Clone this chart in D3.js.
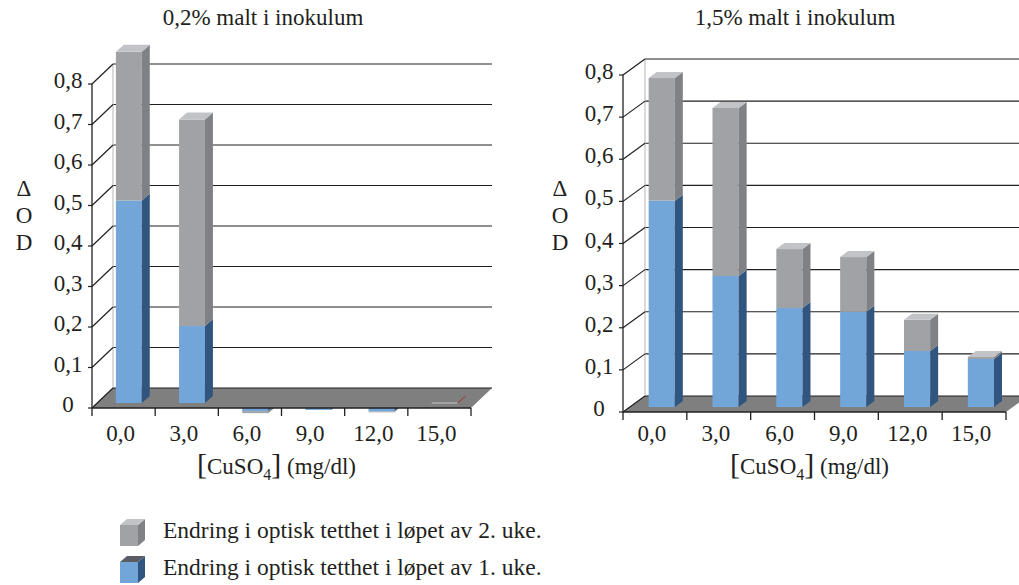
<!DOCTYPE html>
<html>
<head>
<meta charset="utf-8">
<script src="https://cdn.jsdelivr.net/npm/d3@7"></script>
<style>
  body { margin: 0; background: #fff; }
  text { font-family: "Liberation Serif", "DejaVu Serif", serif; fill: #231f20; }
</style>
</head>
<body>
<svg id="chart" width="1019" height="585"></svg>
<script>
// data
const categories = ["0,0", "3,0", "6,0", "9,0", "12,0", "15,0"]
const week1Low  = [0.50, 0.19, -0.02, -0.017, -0.021, 0]
const week2Low  = [0.367, 0.51, -0.005, 0, -0.002, 0]
const week1High = [0.49, 0.311, 0.235, 0.226, 0.133, 0.114]
const week2High = [0.291, 0.399, 0.14, 0.13, 0.074, 0.005]
const yTicks = [0, 0.1, 0.2, 0.3, 0.4, 0.5, 0.6, 0.7, 0.8]
const yTickLabels = ["0", "0,1", "0,2", "0,3", "0,4", "0,5", "0,6", "0,7", "0,8"]
const titles = ["0,2% malt i inokulum", "1,5% malt i inokulum"]
const legendLabels = ["Endring i optisk tetthet i løpet av 2. uke.", "Endring i optisk tetthet i løpet av 1. uke."]

const colors = {
  grayFront: "#a1a2a6", graySide: "#808186", grayTop: "#c2c3c6",
  blueFront: "#72a5d8", blueSide: "#30557f", blueTop: "#5a5e64",
  floor: "#7f7f7f", line: "#231f20"
}

const svg = d3.select("#chart")

const pts = arr => arr.map(p => p.join(",")).join(" ")

function drawPanel(opts) {
  const { x0, x1, y0, y1, depth, barShift, barDepth, week1, week2, title, titleX, deltaX } = opts
  const [dx, dy] = depth
  const g = svg.append("g")

  const xScale = d3.scaleBand()
    .domain(categories)
    .range([x0, x1])
    .paddingInner(0.59)
    .paddingOuter(0.295)
  const xCat = d3.scaleBand().domain(categories).range([x0, x1])

  const yScale = d3.scaleLinear().domain([0, 0.8]).range([y0, y1])

  // back wall gridlines
  g.selectAll("line.grid")
    .data(yTicks.filter(t => t > 0))
    .enter().append("line")
    .attr("x1", x0 + dx).attr("x2", x1 + dx)
    .attr("y1", d => yScale(d) + dy).attr("y2", d => yScale(d) + dy)
    .attr("stroke", colors.line).attr("stroke-width", 1.2)

  g.append("line")
    .attr("x1", x0 + dx).attr("x2", x0 + dx)
    .attr("y1", yScale(0) + dy).attr("y2", yScale(0.8) + dy)
    .attr("stroke", "#b5b5b5").attr("stroke-width", 1)

  // side wall diagonals
  g.selectAll("line.diag")
    .data(yTicks.filter(t => t > 0))
    .enter().append("line")
    .attr("x1", x0).attr("x2", x0 + dx)
    .attr("y1", d => yScale(d)).attr("y2", d => yScale(d) + dy)
    .attr("stroke", colors.line).attr("stroke-width", 1.2)

  // stacked segments
  const sx = dx * barShift, sy = dy * barShift
  const [bdx, bdy] = barDepth
  const bars = categories.map((c, i) => {
    const b = week1[i], w = week2[i]
    return { cat: c, segs: [
      { v0: 0, v1: b, front: colors.blueFront, side: colors.blueSide, top: colors.blueTop },
      { v0: b, v1: b + w, front: colors.grayFront, side: colors.graySide, top: colors.grayTop }
    ], total: b + w, zero: b === 0 && w === 0 }
  })

  function drawBar(sel, d, negative) {
    const xl = xScale(d.cat) + sx
    const xr = xl + xScale.bandwidth()
    if (d.zero) {
      if (negative) return
      const yb = yScale(0) + sy
      sel.append("line").attr("x1", xl).attr("x2", xr).attr("y1", yb).attr("y2", yb)
        .attr("stroke", "#c8c8c8").attr("stroke-width", 1)
      sel.append("line").attr("x1", xr).attr("x2", xr + bdx).attr("y1", yb).attr("y2", yb + bdy)
        .attr("stroke", "#a0303a").attr("stroke-width", 1)
      return
    }
    if ((d.total < 0) !== negative) return
    d.segs.forEach((s, k) => {
      if (s.v0 === s.v1) return
      const yt = yScale(Math.max(s.v0, s.v1)) + sy
      const yb = yScale(Math.min(s.v0, s.v1)) + sy
      sel.append("rect")
        .attr("x", xl).attr("y", yt)
        .attr("width", xr - xl).attr("height", yb - yt)
        .attr("fill", s.front)
      sel.append("polygon")
        .attr("points", pts([[xr, yt], [xr + bdx, yt + bdy], [xr + bdx, yb + bdy], [xr, yb]]))
        .attr("fill", s.side)
      const isTop = !negative && (k === 1 || d.segs[1].v0 === d.segs[1].v1)
      if (isTop) {
        sel.append("polygon")
          .attr("points", pts([[xl, yt], [xl + bdx, yt + bdy], [xr + bdx, yt + bdy], [xr, yt]]))
          .attr("fill", s.top)
      }
    })
  }

  const negG = g.append("g")
  bars.forEach(d => drawBar(negG, d, true))

  // floor
  g.append("polygon")
    .attr("points", pts([[x0, y0], [x1, y0], [x1 + dx, y0 + dy], [x0 + dx, y0 + dy]]))
    .attr("fill", colors.floor)
  g.append("line").attr("x1", x0 + dx).attr("x2", x1 + dx)
    .attr("y1", y0 + dy).attr("y2", y0 + dy)
    .attr("stroke", colors.line).attr("stroke-width", 1.2)
  g.append("line").attr("x1", x0).attr("x2", x0 + dx)
    .attr("y1", y0).attr("y2", y0 + dy)
    .attr("stroke", colors.line).attr("stroke-width", 1.2)

  const posG = g.append("g")
  bars.forEach(d => drawBar(posG, d, false))

  // front axes
  g.append("line").attr("x1", x0).attr("x2", x0)
    .attr("y1", yScale(0.8)).attr("y2", y0)
    .attr("stroke", colors.line).attr("stroke-width", 1.3)
  g.append("line").attr("x1", x0).attr("x2", x1)
    .attr("y1", y0).attr("y2", y0)
    .attr("stroke", colors.line).attr("stroke-width", 1.3)

  g.selectAll("line.ytick")
    .data(yTicks)
    .enter().append("line")
    .attr("x1", x0 - 4).attr("x2", x0)
    .attr("y1", d => yScale(d)).attr("y2", d => yScale(d))
    .attr("stroke", colors.line).attr("stroke-width", 1.2)

  g.selectAll("text.ylab")
    .data(yTicks)
    .enter().append("text")
    .attr("x", x0 - 24)
    .attr("y", d => yScale(d) + 4)
    .attr("text-anchor", "middle")
    .attr("font-size", 23)
    .text((d, i) => yTickLabels[i])

  const bounds = categories.map(c => xCat(c)).concat([x1])
  g.selectAll("line.xtick")
    .data(bounds)
    .enter().append("line")
    .attr("x1", d => d).attr("x2", d => d)
    .attr("y1", y0).attr("y2", y0 + 8)
    .attr("stroke", colors.line).attr("stroke-width", 1.3)

  g.selectAll("text.xlab")
    .data(categories)
    .enter().append("text")
    .attr("x", d => xCat(d) + xCat.bandwidth() / 2 - 3)
    .attr("y", 441)
    .attr("text-anchor", "middle")
    .attr("font-size", 23)
    .text(d => d)

  // axis title
  const xt = g.append("text")
    .attr("x", (x0 + x1) / 2 - 5)
    .attr("y", 474)
    .attr("text-anchor", "middle")
    .attr("font-size", 23)
  xt.append("tspan").attr("font-size", 30).text("[")
  xt.append("tspan").text("CuSO")
  xt.append("tspan").attr("font-size", 16).attr("dy", 6).text("4")
  xt.append("tspan").attr("font-size", 30).attr("dy", -6).text("]")
  xt.append("tspan").text(" (mg/dl)")

  // ΔOD
  ;["Δ", "O", "D"].forEach((ch, i) => {
    g.append("text")
      .attr("x", deltaX).attr("y", 196 + i * 27)
      .attr("text-anchor", "middle")
      .attr("font-size", 23)
      .text(ch)
  })

  g.append("text")
    .attr("x", titleX).attr("y", 25)
    .attr("text-anchor", "middle")
    .attr("font-size", 23)
    .text(title)
}

drawPanel({ x0: 92, x1: 471, y0: 408, y1: 84, depth: [21, -20], barShift: 0.25, barDepth: [8, -7],
  week1: week1Low, week2: week2Low, title: titles[0], titleX: 263, deltaX: 24 })
drawPanel({ x0: 623, x1: 1006, y0: 412, y1: 75, depth: [22, -16], barShift: 0.31, barDepth: [8, -6],
  week1: week1High, week2: week2High, title: titles[1], titleX: 795, deltaX: 560 })

// legend
const legend = svg.append("g")
const legendItems = [
  { label: legendLabels[0], front: colors.grayFront, side: colors.graySide, top: colors.grayTop, y: 525 },
  { label: legendLabels[1], front: colors.blueFront, side: colors.blueSide, top: colors.blueTop, y: 562 }
]
legendItems.forEach(d => {
  const lx = 120, w = 18, h = 21, ddx = 7, ddy = -6
  legend.append("rect").attr("x", lx).attr("y", d.y).attr("width", w).attr("height", h).attr("fill", d.front)
  legend.append("polygon")
    .attr("points", pts([[lx + w, d.y], [lx + w + ddx, d.y + ddy], [lx + w + ddx, d.y + h + ddy], [lx + w, d.y + h]]))
    .attr("fill", d.side)
  legend.append("polygon")
    .attr("points", pts([[lx, d.y], [lx + ddx, d.y + ddy], [lx + w + ddx, d.y + ddy], [lx + w, d.y]]))
    .attr("fill", d.top)
  legend.append("text")
    .attr("x", 163).attr("y", d.y + 13)
    .attr("font-size", 23.5)
    .text(d.label)
})
</script>
</body>
</html>
